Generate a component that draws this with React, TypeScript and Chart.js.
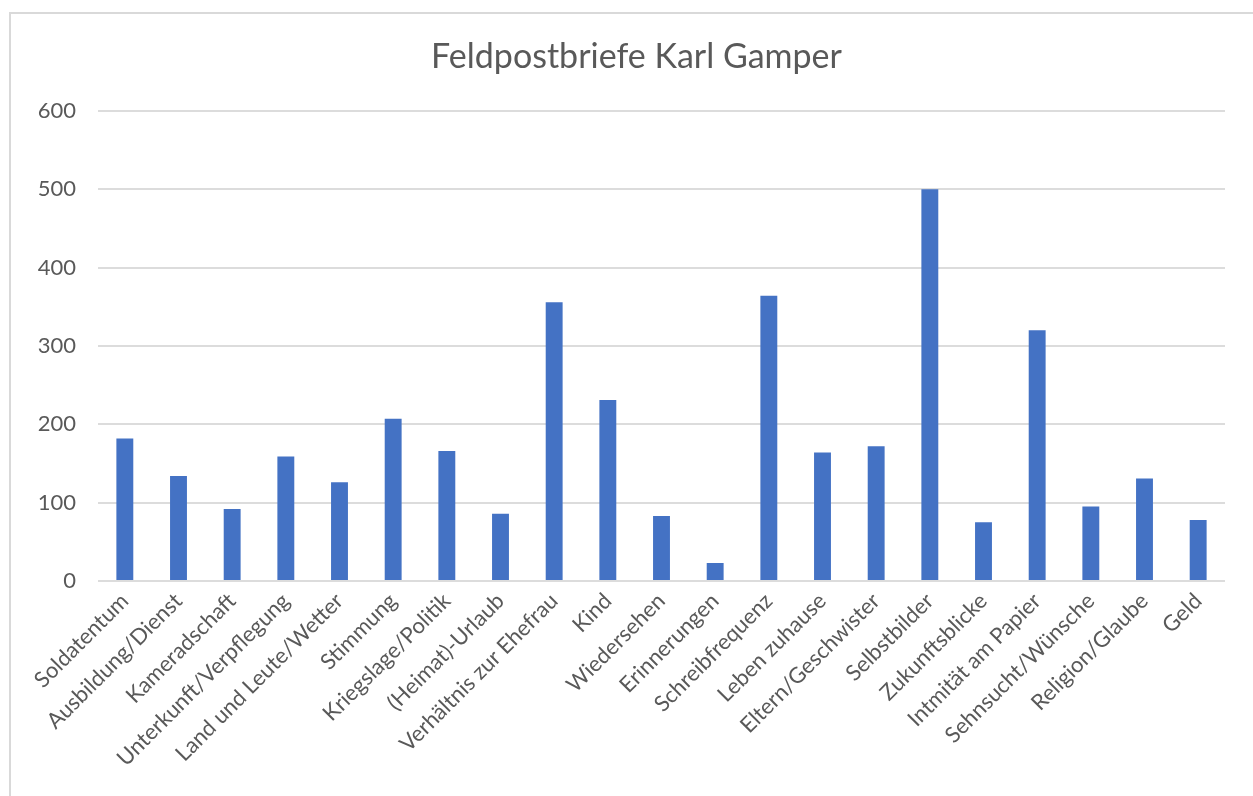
import React, { useEffect, useRef } from "react";
import { Chart, registerables } from "chart.js";

Chart.register(...registerables);

const TITLE = "Feldpostbriefe Karl Gamper";

const categories = [
  "Soldatentum",
  "Ausbildung/Dienst",
  "Kameradschaft",
  "Unterkunft/Verpflegung",
  "Land und Leute/Wetter",
  "Stimmung",
  "Kriegslage/Politik",
  "(Heimat)-Urlaub",
  "Verhältnis zur Ehefrau",
  "Kind",
  "Wiedersehen",
  "Erinnerungen",
  "Schreibfrequenz",
  "Leben zuhause",
  "Eltern/Geschwister",
  "Selbstbilder",
  "Zukunftsblicke",
  "Intmität am Papier",
  "Sehnsucht/Wünsche",
  "Religion/Glaube",
  "Geld",
];

const values = [
  182, 134, 92, 159, 126, 207, 166, 86, 356, 231, 83, 23, 364, 164, 172, 500,
  75, 320, 95, 131, 78,
];

const yTicks = [0, 100, 200, 300, 400, 500, 600];

const FONT = "Lato, 'Open Sans', sans-serif";
const TEXT = "#595959";

// Draws the chart title centred over the outer chart frame (as in the reference),
// rather than over the canvas minus padding.
const frameTitle = {
  id: "frameTitle",
  afterDraw(chart: any, _args: any, opts: any) {
    const ctx = chart.ctx;
    ctx.save();
    ctx.font = `normal ${opts.size}px ${FONT}`;
    ctx.fillStyle = TEXT;
    ctx.textAlign = "center";
    ctx.textBaseline = "middle";
    ctx.fillText(opts.text, opts.centerX, opts.centerY);
    ctx.restore();
  },
};

export default function App() {
  const ref = useRef<HTMLCanvasElement | null>(null);

  useEffect(() => {
    document.body.style.overflow = "hidden";
    const canvas = ref.current;
    if (!canvas) return;
    const chart = new Chart(canvas, {
      type: "bar",
      data: {
        labels: categories,
        datasets: [
          {
            data: values,
            backgroundColor: "#4472C4",
            borderWidth: 0,
            barPercentage: 0.315,
            categoryPercentage: 1,
          },
        ],
      },
      plugins: [frameTitle],
      options: {
        responsive: false,
        animation: false,
        devicePixelRatio: 1,
        layout: { padding: { left: 0, right: 28, top: 111, bottom: 0 } },
        plugins: {
          legend: { display: false },
          tooltip: { enabled: false },
          title: { display: false },
          frameTitle: { text: TITLE, size: 34, centerX: 636.5, centerY: 57 },
        } as any,
        scales: {
          x: {
            grid: { display: false, drawTicks: false },
            border: { display: false },
            ticks: {
              color: TEXT,
              font: { family: FONT, size: 22 },
              maxRotation: 45,
              minRotation: 45,
              autoSkip: false,
              padding: 7,
            },
            afterFit: (scale: any) => {
              scale.height = 215;
            },
          },
          y: {
            min: 0,
            max: 600,
            afterBuildTicks: (scale: any) => {
              scale.ticks = yTicks.map((v) => ({ value: v }));
            },
            grid: { color: "#dcdcdc", lineWidth: 2, drawTicks: false },
            border: { display: false },
            ticks: {
              color: TEXT,
              font: { family: FONT, size: 22 },
              padding: 22,
            },
            afterFit: (scale: any) => {
              scale.width = 98;
            },
          },
        },
      },
    });
    return () => chart.destroy();
  }, []);

  return (
    <div>
      <canvas
        ref={ref}
        width={1253}
        height={796}
        style={{ position: "fixed", left: 0, top: 0, width: 1253, height: 796, background: "#fff" }}
      />
      <div
        style={{
          position: "fixed",
          left: 9,
          top: 12,
          width: 1400,
          height: 1000,
          border: "2px solid #d9d9d9",
          pointerEvents: "none",
        }}
      />
    </div>
  );
}
